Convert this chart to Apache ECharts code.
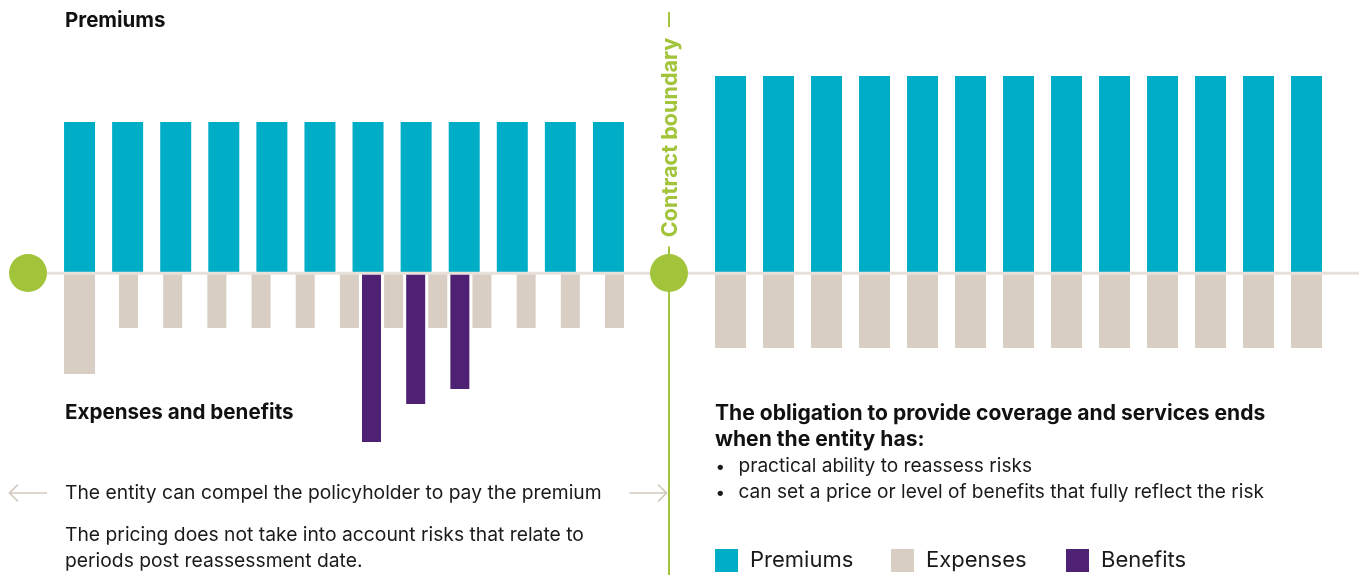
<!DOCTYPE html>
<html><head><meta charset="utf-8">
<script src="https://cdn.jsdelivr.net/npm/echarts@6/dist/echarts.min.js"></script>
<style>html,body{margin:0;padding:0;background:#fff}#c{width:1362px;height:575px}</style>
</head><body><div id="c"></div>
<script>
// ---- data ----
const leftPeriods = ['1','2','3','4','5','6','7','8','9','10','11','12'];
const rightPeriods = ['13','14','15','16','17','18','19','20','21','22','23','24','25'];
const leftPremiums = [151,151,151,151,151,151,151,151,151,151,151,151];
const leftInitialExpense = [101];
const leftExpenses = [55,55,55,55,55,55,55,55,55,55,55,55];
const leftBenefits = [169,131,116];
const benefitAfterExpense = [5,6,7]; // benefit paid between expense k and k+1
const rightPremiums = [197,197,197,197,197,197,197,197,197,197,197,197,197];
const rightExpenses = [75,75,75,75,75,75,75,75,75,75,75,75,75];
const legendNames = ['Premiums','Expenses','Benefits'];

// ---- build ----
const TEAL='#00adc7', BEIGE='#d8cec3', PURPLE='#4e2174', GREEN='#a1c43a', LINE='#e7e1da', ARROW='#d3c9bd';
const FONT='Inter';
const initialExp = leftPeriods.map((p,i)=> i < leftInitialExpense.length ? -leftInitialExpense[i] : '-');
const halfSlots = [];
for (let i=0;i<leftExpenses.length*2-1;i++) halfSlots.push('s'+i);
const expSlots = halfSlots.map((s,i)=> i%2===0 ? -leftExpenses[i/2] : '-');
const benSlots = halfSlots.map(()=> '-');
benefitAfterExpense.forEach((k,j)=>{ benSlots[2*k+1] = -leftBenefits[j]; });

function txt(text,x,y,size,weight,color,extra){
  return Object.assign({type:'text', z:50, style:{text:text,x:x,y:y,fontSize:size,fontWeight:weight,fontFamily:FONT,fill:color,align:'left',verticalAlign:'middle'}}, extra||{});
}
function seg(x1,y1,x2,y2,color,w){ return {type:'line', z:40, shape:{x1,y1,x2,y2}, style:{stroke:color,lineWidth:w}}; }

const chart = echarts.init(document.getElementById('c'), null, {renderer:'canvas'});
const yAx = (i)=>({type:'value', gridIndex:i, min:-200, max:200, show:false});
chart.setOption({
  animation:false,
  grid:[
    {left:55.5, width:577, top:73, height:400},
    {left:117.45, width:508.1, top:73, height:400},
    {left:706.5, width:624, top:73, height:400}
  ],
  xAxis:[
    {type:'category', gridIndex:0, data:leftPeriods, show:false},
    {type:'category', gridIndex:1, data:halfSlots, show:false},
    {type:'category', gridIndex:2, data:rightPeriods, show:false}
  ],
  yAxis:[yAx(0),yAx(1),yAx(2)],
  legend: legendNames.map((n,i)=>({
    data:[n], left:[715,891,1066][i], top:549, padding:0, itemWidth:23, itemHeight:23, icon:'rect', selectedMode:false,
    textStyle:{fontFamily:FONT, fontSize:22, color:'#1a1a1a', padding:[10,0,0,7]}
  })),
  series:[
    {name:'Premiums', type:'bar', xAxisIndex:0, yAxisIndex:0, stack:'L', barWidth:31, data:leftPremiums, itemStyle:{color:TEAL}},
    {name:'Expenses', type:'bar', xAxisIndex:0, yAxisIndex:0, stack:'L', barWidth:31, data:initialExp, itemStyle:{color:BEIGE}},
    {name:'Expenses', type:'bar', xAxisIndex:1, yAxisIndex:1, barWidth:19, barGap:'-100%', data:expSlots, itemStyle:{color:BEIGE}},
    {name:'Benefits', type:'bar', xAxisIndex:1, yAxisIndex:1, barWidth:19, barGap:'-100%', data:benSlots, itemStyle:{color:PURPLE}},
    {name:'Premiums', type:'bar', xAxisIndex:2, yAxisIndex:2, stack:'R', barWidth:31, data:rightPremiums, itemStyle:{color:TEAL}},
    {name:'Expenses', type:'bar', xAxisIndex:2, yAxisIndex:2, stack:'R', barWidth:31, data:rightExpenses.map(v=>-v), itemStyle:{color:BEIGE}}
  ],
  graphic:[
    seg(47,273.3,1359,273.3,LINE,3),
    seg(669,290,669,575,GREEN,2),
    seg(669,246.5,669,255,GREEN,2),
    seg(669,12,669,27,GREEN,2),
    {type:'circle', z:45, shape:{cx:28,cy:273,r:19}, style:{fill:GREEN}},
    {type:'circle', z:45, shape:{cx:669,cy:273,r:19}, style:{fill:GREEN}},
    {type:'text', z:50, x:670.5, y:137.5, rotation:Math.PI/2, style:{text:'Contract boundary', x:0, y:0, fontSize:21.6, fontWeight:'bold', fontFamily:FONT, fill:GREEN, align:'center', verticalAlign:'middle'}},
    // arrows
    seg(9,493,47,493,ARROW,1.7),
    {type:'polyline', z:40, shape:{points:[[18,484.5],[9.5,493],[18,501.5]]}, style:{stroke:ARROW,lineWidth:1.7,fill:null}},
    seg(629.5,493,667,493,ARROW,1.7),
    {type:'polyline', z:40, shape:{points:[[658,484.5],[666.5,493],[658,501.5]]}, style:{stroke:ARROW,lineWidth:1.7,fill:null}},
    // texts
    txt('Premiums',65,20.8,20.5,'bold','#111'),
    txt('Expenses and benefits',65,412.9,20.6,'bold','#111'),
    txt('The entity can compel the policyholder to pay the premium',65,493.2,19.3,'normal','#1a1a1a'),
    txt('The pricing does not take into account risks that relate to',65,535,19.3,'normal','#1a1a1a'),
    txt('periods post reassessment date.',65,561.5,19.3,'normal','#1a1a1a'),
    txt('The obligation to provide coverage and services ends',715,414,21.1,'bold','#111'),
    txt('when the entity has:',715,439.5,21.1,'bold','#111'),
    txt('•',715.5,466.7,17,'normal','#1a1a1a'),
    txt('practical ability to reassess risks',738.5,466.7,19.1,'normal','#1a1a1a'),
    txt('•',715.5,492.7,17,'normal','#1a1a1a'),
    txt('can set a price or level of benefits that fully reflect the risk',738.5,492.7,19.1,'normal','#1a1a1a')
  ]
});
</script></body></html>
